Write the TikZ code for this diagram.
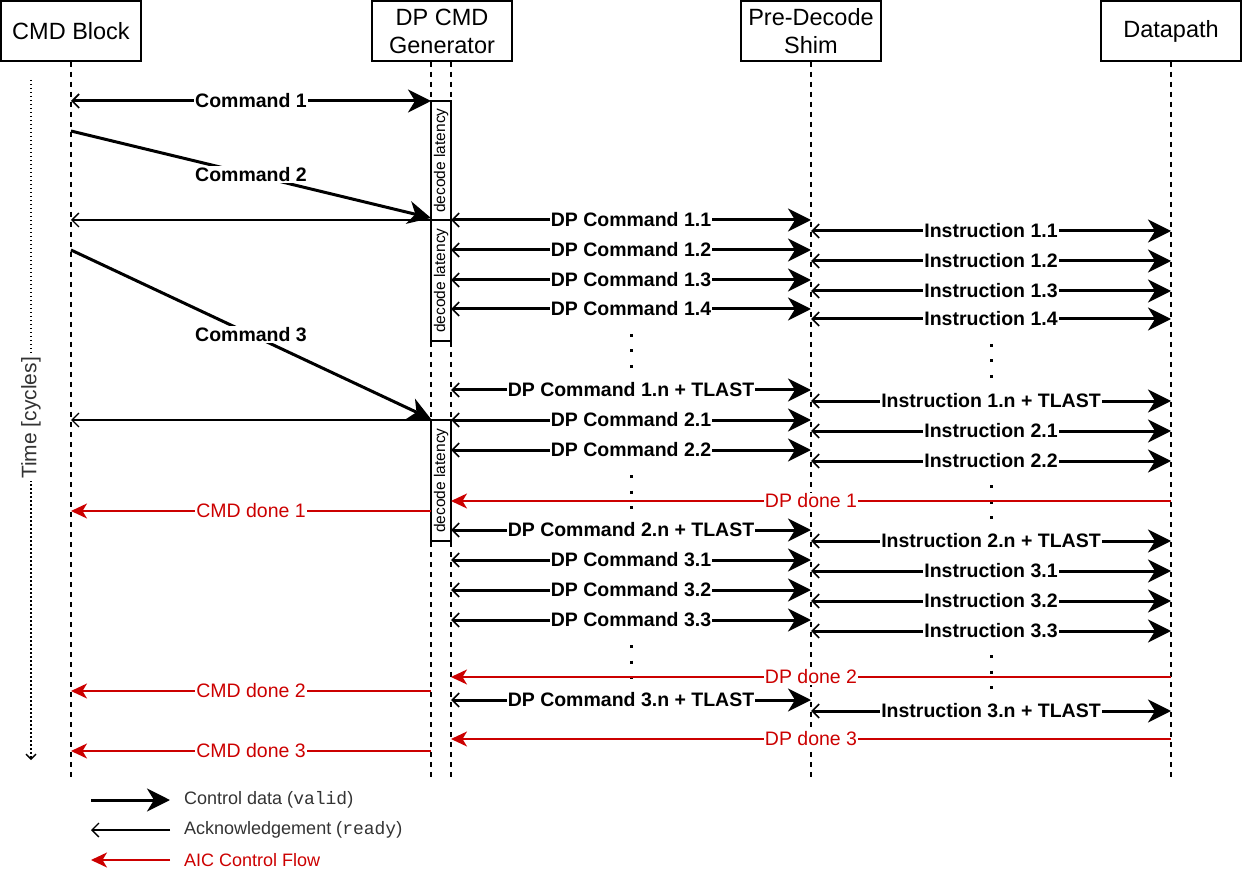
\documentclass[tikz,border=0pt]{standalone}
\usepackage{fontspec}
\setmainfont{Liberation Sans}
\setmonofont{Liberation Mono}
\usetikzlibrary{arrows.meta}
\definecolor{aicred}{RGB}{204,0,0}

\begin{document}
\begin{tikzpicture}[x=1pt, y=-1pt,
    head/.style={draw, line width=1.5pt, minimum width=140pt, minimum height=60pt, align=center, font=\fontsize{23.5}{28}\selectfont},
    life/.style={line width=1.5pt, dash pattern=on 5pt off 5pt},
    latency/.style={draw, line width=1.5pt, fill=white, rotate=90, minimum height=20pt, inner sep=0pt, font=\fontsize{15.5}{18}\selectfont},
    valid/.style={line width=3pt, arrows={{Straight Barb[length=7pt,width=14pt,line width=1.6pt]}-{Stealth[length=23pt,width=23pt,inset=7pt]}}},
    push/.style={line width=3pt, arrows={-{Stealth[length=23pt,width=23pt,inset=7pt]}}},
    ready/.style={line width=1.3pt, arrows={-{Straight Barb[length=7pt,width=14pt,line width=1.3pt]}}},
    done/.style={aicred, line width=1.6pt, arrows={-{Stealth[length=16pt,width=15pt,inset=4.5pt]}}},
    msg/.style={fill=white, inner sep=1pt, font=\bfseries\fontsize{19.5}{22}\selectfont},
    donemsg/.style={fill=white, inner sep=1pt, text=aicred, font=\fontsize{19.5}{22}\selectfont},
    vdots/.style={line width=3pt, dash pattern=on 3pt off 12.5pt},
    key/.style={anchor=west, inner sep=0pt, text=black!80, font=\fontsize{18}{21}\selectfont}]
  \useasboundingbox (0,0) rectangle (1242,882);

  % participants
  \node[head] (cmdbox) at (71,31) {CMD Block};
  \node[head] (genbox) at (442,31) {DP CMD\\Generator};
  \node[head] (shimbox) at (811,31) {Pre-Decode\\Shim};
  \node[head] (dpbox) at (1171,31) {Datapath};
  \coordinate (cmd) at (71,0);
  \coordinate (genl) at (431,0);
  \coordinate (genr) at (451,0);
  \coordinate (shim) at (811,0);
  \coordinate (dp) at (1171,0);

  % lifelines
  \draw[life] (cmdbox.south) -- (cmd |- 0,780);
  \draw[life] (genl |- genbox.south) -- (genl |- 0,780);
  \draw[life] (genr |- genbox.south) -- (genr |- 0,780);
  \draw[life] (shimbox.south) -- (shim |- 0,780);
  \draw[life] (dpbox.south) -- (dp |- 0,780);

  % time axis
  \draw[line width=1.5pt, dash pattern=on 1.5pt off 2.5pt, -{Straight Barb[length=5pt,width=10pt,line width=1.3pt]}] (31,80) -- (31,760);
  \node[rotate=90, fill=white, inner sep=2pt, text=black!80, font=\fontsize{21}{24}\selectfont] (timelab) at (31,418) {Time [cycles]};

  % decode latency
  \node[latency, minimum width=119pt] (lat1) at (441,160.5) {decode latency};
  \node[latency, minimum width=121pt] (lat2) at (441,280.5) {decode latency};
  \node[latency, minimum width=121pt] (lat3) at (441,480.5) {decode latency};

  % CMD block <-> generator
  \draw[valid] (cmd |- 0,101) -- node[msg] (c1) {Command 1} (genl |- 0,101);
  \draw[push] (cmd |- 0,131) -- node[msg] (c2) {Command 2} (genl |- 0,218);
  \draw[ready] (genl |- 0,220) -- (cmd |- 0,220);
  \draw[push] (cmd |- 0,250) -- node[msg] (c3) {Command 3} (genl |- 0,419);
  \draw[ready] (genl |- 0,420) -- (cmd |- 0,420);
  \foreach \y/\n in {511/1, 691/2, 751/3}
    \draw[done] (genl |- 0,\y) -- node[donemsg] (cd\n) {CMD done \n} (cmd |- 0,\y);

  % generator -> shim
  \foreach \y/\n in {220/1.1, 250/1.2, 280/1.3, 309/1.4, 390/1.n + TLAST, 420/2.1, 450/2.2,
      530/2.n + TLAST, 560/3.1, 590/3.2, 620/3.3, 700/3.n + TLAST}
    \draw[valid] (genr |- 0,\y) -- node[msg] (dpc\y) {DP Command \n} (shim |- 0,\y);
  \foreach \y in {351, 492, 662}
    \draw[vdots] (631,\y-17) -- (631,\y+17);

  % shim -> datapath
  \foreach \y in {361, 502, 672}
    \draw[vdots] (991,\y-17) -- (991,\y+17);
  \foreach \y/\n in {231/1.1, 261/1.2, 291/1.3, 319/1.4, 401/1.n + TLAST, 431/2.1, 461/2.2,
      541/2.n + TLAST, 571/3.1, 601/3.2, 631/3.3, 711/3.n + TLAST}
    \draw[valid] (shim |- 0,\y) -- node[msg] (ins\y) {Instruction \n} (dp |- 0,\y);

  % datapath done
  \foreach \y/\n in {501/1, 677/2, 739/3}
    \draw[done] (dp |- 0,\y) -- node[donemsg] (dd\n) {DP done \n} (genr |- 0,\y);

  % legend
  \node[key] (k1) at (184,800) {Control data (\texttt{valid})};
  \node[key] (k2) at (184,830) {Acknowledgement (\texttt{ready})};
  \node[key, text=aicred] (k3) at (184,860) {AIC Control Flow};
  \draw[push] (91,800) -- ([xshift=-14pt]k1.west);
  \draw[ready] ([xshift=-14pt]k2.west) -- (91,830);
  \draw[done] ([xshift=-14pt]k3.west) -- (91,860);
\end{tikzpicture}
\end{document}
